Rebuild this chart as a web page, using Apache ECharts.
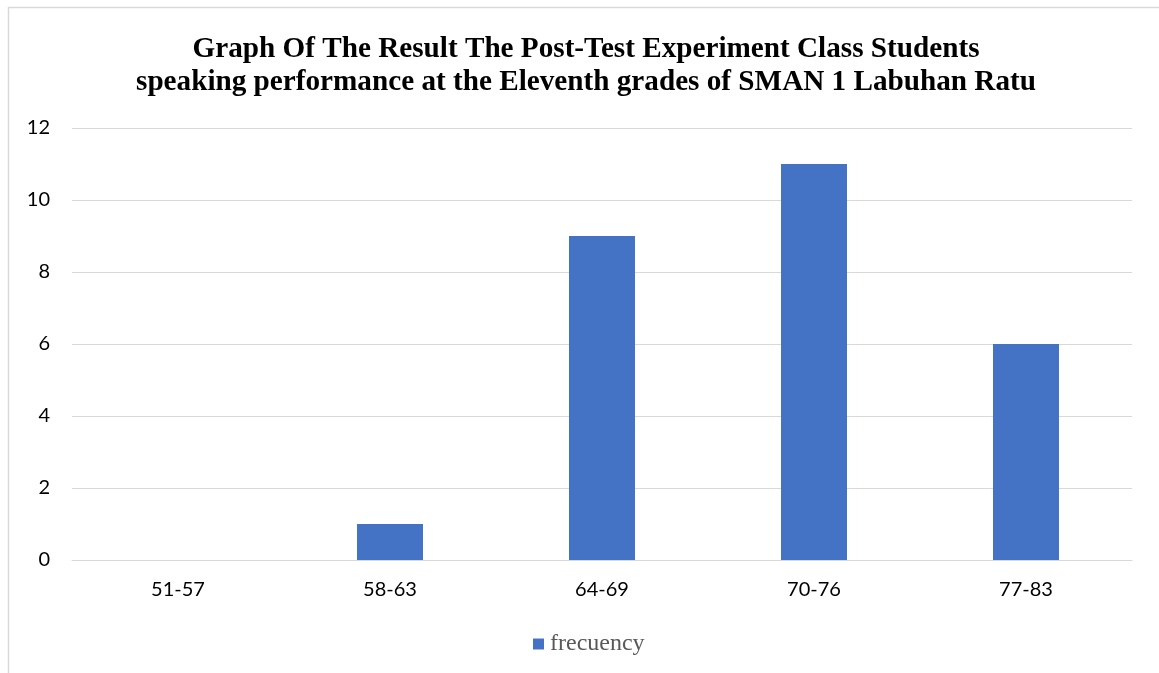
<!DOCTYPE html>
<html>
<head>
<meta charset="utf-8">
<script src="https://cdn.jsdelivr.net/npm/echarts@6/dist/echarts.min.js"></script>
<style>
  html, body { margin: 0; padding: 0; background: #fff; }
  #chart { width: 1159px; height: 673px; }
</style>
</head>
<body>
<div id="chart"></div>
<script>
// Score ranges and number of students in each range
const categories = ['51-57', '58-63', '64-69', '70-76', '77-83'];
const frequency = [0, 1, 9, 11, 6];
const seriesName = 'frecuency';
const titleLines = [
  'Graph Of The Result The Post-Test Experiment Class Students',
  'speaking performance at the Eleventh grades of SMAN 1 Labuhan Ratu'
];

const chart = echarts.init(document.getElementById('chart'), null, { renderer: 'canvas' });

chart.setOption({
  animation: false,
  backgroundColor: '#ffffff',
  graphic: [{
    type: 'rect',
    shape: { x: 8.5, y: 7.5, width: 1200, height: 700 },
    style: { fill: 'none', stroke: '#d9d9d9', lineWidth: 1.5 },
    silent: true,
    z: -1
  }],
  title: {
    text: titleLines.join('\n'),
    left: 581,
    textAlign: 'center',
    top: 28,
    textStyle: {
      fontFamily: '"Liberation Serif", "Times New Roman", serif',
      fontWeight: 'bold',
      fontSize: 29.2,
      lineHeight: 33,
      color: '#000000'
    }
  },
  legend: {
    data: [seriesName],
    bottom: 12,
    left: 528,
    itemWidth: 11,
    itemHeight: 11,
    icon: 'rect',
    itemGap: 5,
    textStyle: {
      fontFamily: '"Liberation Serif", "Times New Roman", serif',
      fontSize: 24,
      color: '#595959',
      padding: [0, 0, 0, 1]
    }
  },
  grid: {
    left: 72,
    right: 27,
    top: 128,
    bottom: 113,
    containLabel: false
  },
  xAxis: {
    type: 'category',
    data: categories,
    axisLine: { show: true, lineStyle: { color: '#d9d9d9', width: 1 } },
    axisTick: { show: false },
    axisLabel: {
      fontFamily: 'Lato, "Open Sans", sans-serif',
      fontSize: 20,
      color: '#000000',
      margin: 20
    }
  },
  yAxis: {
    type: 'value',
    min: 0,
    max: 12,
    interval: 2,
    axisLine: { show: false },
    axisTick: { show: false },
    splitLine: { lineStyle: { color: '#d9d9d9', width: 1 } },
    axisLabel: {
      fontFamily: 'Lato, "Open Sans", sans-serif',
      fontSize: 20,
      color: '#000000',
      margin: 22
    }
  },
  series: [{
    name: seriesName,
    type: 'bar',
    data: frequency,
    barWidth: 66,
    itemStyle: { color: '#4472c4' }
  }]
});
</script>
</body>
</html>
